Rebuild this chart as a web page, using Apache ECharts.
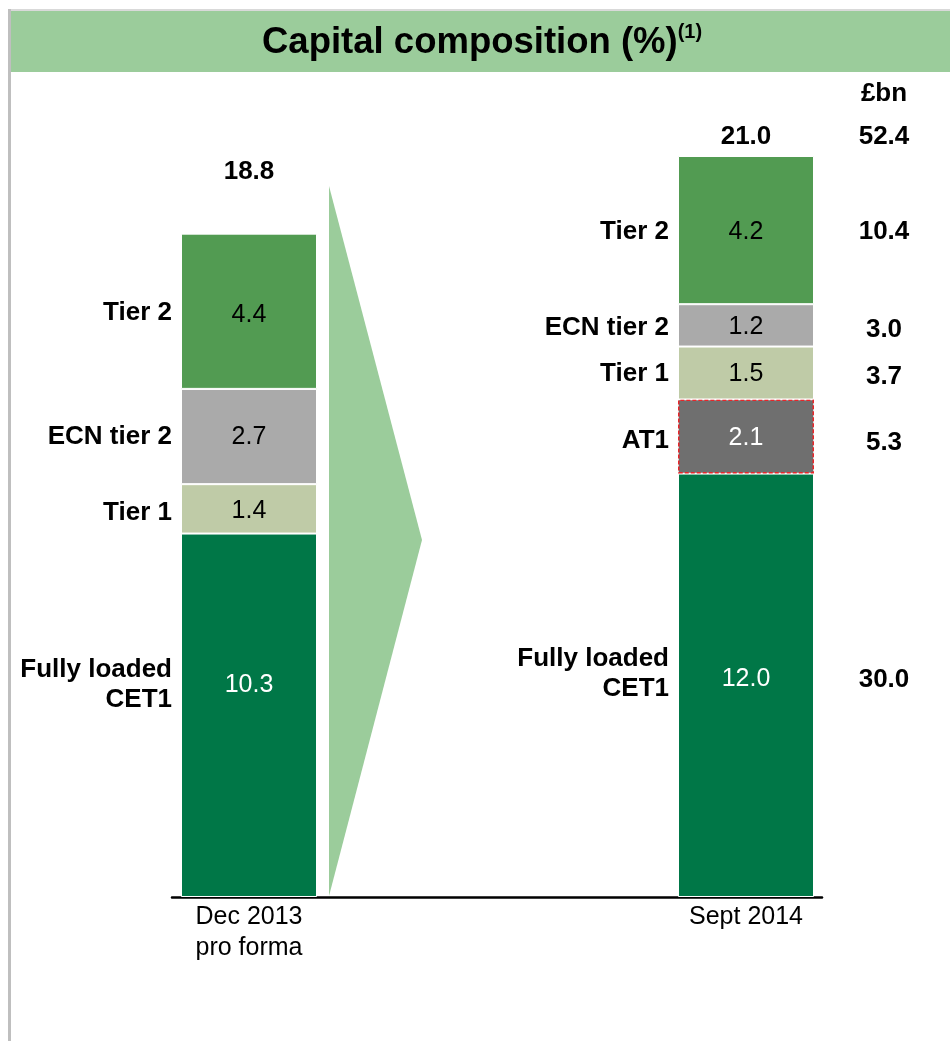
<!DOCTYPE html>
<html>
<head>
<meta charset="utf-8">
<script src="https://cdn.jsdelivr.net/npm/echarts@6/dist/echarts.min.js"></script>
<style>html,body{margin:0;padding:0;background:#fff}#c{width:950px;height:1041px}</style>
</head>
<body>
<div id="c"></div>
<script>
// ---- data ----
const categories = ['Dec 2013\npro forma', 'Sept 2014'];
const segmentNames = ['Fully loaded\nCET1', 'AT1', 'Tier 1', 'ECN tier 2', 'Tier 2'];
const cet1 = [10.3, 12.0];
const at1 = [null, 2.1];
const tier1 = [1.4, 1.5];
const ecnTier2 = [2.7, 1.2];
const tier2 = [4.4, 4.2];
const totals = [18.8, 21.0];
const bnHeader = '£bn';
const bnTotal = 52.4;
const bnSept = [30.0, 5.3, 3.7, 3.0, 10.4];

// ---- style ----
const FONT = 'Liberation Sans, Arial, sans-serif';
const segValues = [cet1, at1, tier1, ecnTier2, tier2];
const segColors = ['#007747', '#6F6F6F', '#BFCBA7', '#AAAAAA', '#529B52'];
const valColors = ['#ffffff', '#ffffff', '#000000', '#000000', '#000000'];
const valOffY = [[-30, -6], [0, 2], [2, 1], [1, 2], [4, 2]];
const nameOffY = [[-30, -11], [0, 4], [4, 1], [0, 2], [2, 2]];
const bnOffY = [-5, 6, 4, 4, 2];
const totalOffY = [-62, -19];
const bnX = 138;

// segment midpoints
function mids(j) {
  let cum = 0; const out = [];
  segValues.forEach(arr => {
    const v = arr[j];
    if (v == null) { out.push(null); return; }
    out.push(cum + v / 2); cum += v;
  });
  return out;
}
const midByCat = categories.map((c, j) => mids(j));

const series = [];
segValues.forEach((arr, i) => {
  series.push({
    type: 'bar', stack: 'cap', barWidth: 136, xAxisIndex: 0, yAxisIndex: 0,
    name: segmentNames[i],
    data: arr.map((v, j) => v == null ? '-' : { value: v, label: { offset: [0, valOffY[i][j]] } }),
    itemStyle: i === 1
      ? { color: segColors[i], borderColor: '#E8262A', borderWidth: 1.5, borderType: [4, 2] }
      : { color: segColors[i], borderColor: '#ffffff', borderWidth: 1 },
    label: {
      show: true, position: 'inside', fontFamily: FONT, fontSize: 25, color: valColors[i],
      textBorderWidth: 0,
      formatter: p => Number(p.value).toFixed(1)
    },
    silent: true
  });
});

// segment name labels (left of bars)
const nameData = [];
segValues.forEach((arr, i) => {
  arr.forEach((v, j) => {
    if (v == null) return;
    nameData.push({ value: [j, midByCat[j][i]], name: segmentNames[i], label: { offset: [0, nameOffY[i][j]] } });
  });
});
const txtItem = { opacity: 1, color: 'rgba(0,0,0,0)' };
series.push({
  type: 'scatter', symbolSize: 0, silent: true, z: 5, data: nameData, itemStyle: txtItem,
  label: { show: true, position: 'left', distance: 77, formatter: p => p.name,
    fontFamily: FONT, fontWeight: 'bold', fontSize: 26, lineHeight: 30, color: '#000000', align: 'right', opacity: 1 }
});

// totals above bars
series.push({
  type: 'scatter', symbolSize: 0, silent: true, z: 5, itemStyle: txtItem,
  data: totals.map((t, j) => ({ value: [j, t], label: { offset: [0, totalOffY[j]] } })),
  label: { show: true, position: 'inside', formatter: p => p.value[1].toFixed(1),
    fontFamily: FONT, fontWeight: 'bold', fontSize: 26, color: '#000000', textBorderWidth: 0, opacity: 1 }
});

// £bn column
const bnData = [
  { value: [1, totals[1]], txt: bnHeader, label: { offset: [bnX, -62] } },
  { value: [1, totals[1]], txt: bnTotal.toFixed(1), label: { offset: [bnX, -19] } }
];
bnSept.forEach((b, i) => {
  bnData.push({ value: [1, midByCat[1][i]], txt: b.toFixed(1), label: { offset: [bnX, bnOffY[i]] } });
});
series.push({
  type: 'scatter', symbolSize: 0, silent: true, z: 5, data: bnData, itemStyle: txtItem,
  label: { show: true, position: 'inside', formatter: p => p.data.txt,
    fontFamily: FONT, fontWeight: 'bold', fontSize: 26, color: '#000000', textBorderWidth: 0, opacity: 1 }
});

const chart = echarts.init(document.getElementById('c'), null, { renderer: 'canvas' });
chart.setOption({
  animation: false,
  backgroundColor: '#ffffff',
  title: {
    text: '{t|Capital composition (%)}{s|(1)}', left: 262, top: 22, padding: 0,
    textStyle: { rich: {
      t: { fontFamily: FONT, fontSize: 36.5, fontWeight: 'bold', color: '#000', lineHeight: 42 },
      s: { fontFamily: FONT, fontSize: 20, fontWeight: 'bold', color: '#000', lineHeight: 26, verticalAlign: 'top' }
    } }
  },
  graphic: [
    { type: 'rect', z: -10, shape: { x: 8, y: 9, width: 942, height: 2 }, style: { fill: '#D9D9D9' } },
    { type: 'rect', z: -10, shape: { x: 8, y: 9, width: 3, height: 1032 }, style: { fill: '#BFBFBF' } },
    { type: 'rect', z: -9, shape: { x: 11, y: 11, width: 939, height: 61 }, style: { fill: '#9BCC9B' } },
    { type: 'polygon', z: -5, shape: { points: [[329, 186], [422, 540], [329, 896]] }, style: { fill: '#9BCC9B' } }
  ],
  grid: [
    { left: 249, right: 204, top: 156, bottom: 144 },
    { left: 172, right: 128, top: 156, bottom: 144 }
  ],
  xAxis: [
    { type: 'category', gridIndex: 0, data: categories, boundaryGap: false,
      axisLine: { show: false }, axisTick: { show: false },
      axisLabel: { fontFamily: FONT, fontSize: 25, lineHeight: 31, color: '#000', margin: 5, interval: 0 } },
    { type: 'value', gridIndex: 1, min: 0, max: 1,
      axisLine: { show: true, lineStyle: { color: '#000', width: 2.5 } },
      axisTick: { show: false }, axisLabel: { show: false }, splitLine: { show: false } }
  ],
  yAxis: [
    { type: 'value', gridIndex: 0, min: 0, max: 21, show: false, splitLine: { show: false } },
    { type: 'value', gridIndex: 1, min: 0, max: 21, show: false, splitLine: { show: false } }
  ],
  series: series
});
</script>
</body>
</html>
